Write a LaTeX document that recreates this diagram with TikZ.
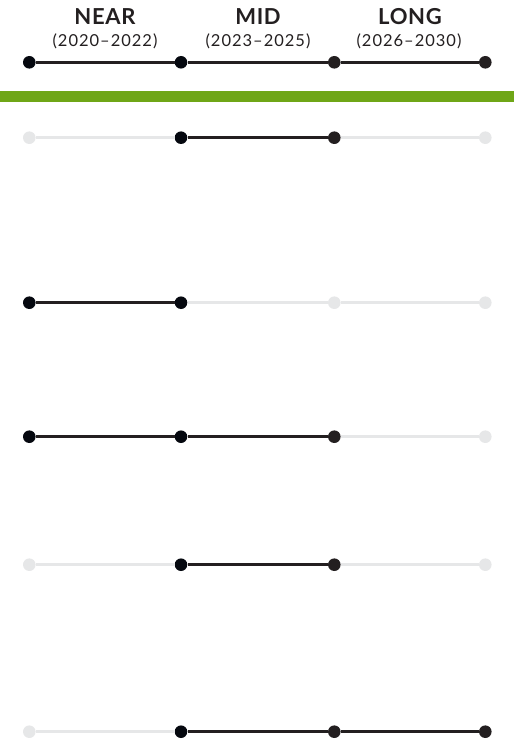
\documentclass[tikz,border=0pt]{standalone}
\usepackage{fontspec}
\setmainfont{Lato}
\newfontfamily\yearfont[LetterSpace=6]{Lato}
\newfontfamily\headfont[LetterSpace=3]{Lato}
\definecolor{ink}{HTML}{05080F}
\definecolor{ink2}{HTML}{231F20}
\definecolor{pale}{HTML}{E6E7E8}
\definecolor{leaf}{HTML}{6FA617}
\begin{document}
\begin{tikzpicture}[x=1pt,y=-1pt,
  dot/.style={circle,inner sep=0pt,minimum size=12.6pt},
  on/.style={dot,fill=ink},
  on2/.style={dot,fill=ink2},
  off/.style={dot,fill=pale},
  lon/.style={draw=ink2,line width=2.6pt},
  loff/.style={draw=pale,line width=2.6pt},
  head/.style={font=\headfont\fontsize{22}{22}\selectfont\bfseries,text=ink2,anchor=base,inner sep=0pt},
  years/.style={font=\yearfont\fontsize{16.5}{16.5}\selectfont,text=ink2,anchor=base,inner sep=0pt}]
\useasboundingbox (0,0) rectangle (514,743);
% headings
\node[head] (hn) at (105,24.3) {NEAR};
\node[head] (hm) at (258,24.3) {MID};
\node[head] (hl) at (410,24.3) {LONG};
\node[years] (yn) at (105,46.7) {(2020–2022)};
\node[years] (ym) at (258,46.7) {(2023–2025)};
\node[years] (yl) at (409,46.7) {(2026–2030)};
% green bar
\node[fill=leaf,inner sep=0pt,minimum width=514pt,minimum height=11pt,anchor=north west] (bar) at (0,90.7) {};
% rows
\foreach \r/\y/\a/\b/\c/\d/\p/\q/\s in {
  h/62.3/on/on/on2/on2/lon/lon/lon,
  a/137.7/off/on/on2/off/loff/lon/loff,
  b/302.7/on/on/off/off/lon/loff/loff,
  c/436.7/on/on/on2/off/lon/lon/loff,
  d/564.7/off/on/on2/off/loff/lon/loff,
  e/731.7/off/on/on2/on2/loff/lon/lon}
{
  \node[\a] (\r1) at (29.3,\y) {};
  \node[\b] (\r2) at (181,\y) {};
  \node[\c] (\r3) at (334.3,\y) {};
  \node[\d] (\r4) at (485.3,\y) {};
  \draw[\p] (\r1) -- (\r2);
  \draw[\q] (\r2) -- (\r3);
  \draw[\s] (\r3) -- (\r4);
}
\end{tikzpicture}
\end{document}
